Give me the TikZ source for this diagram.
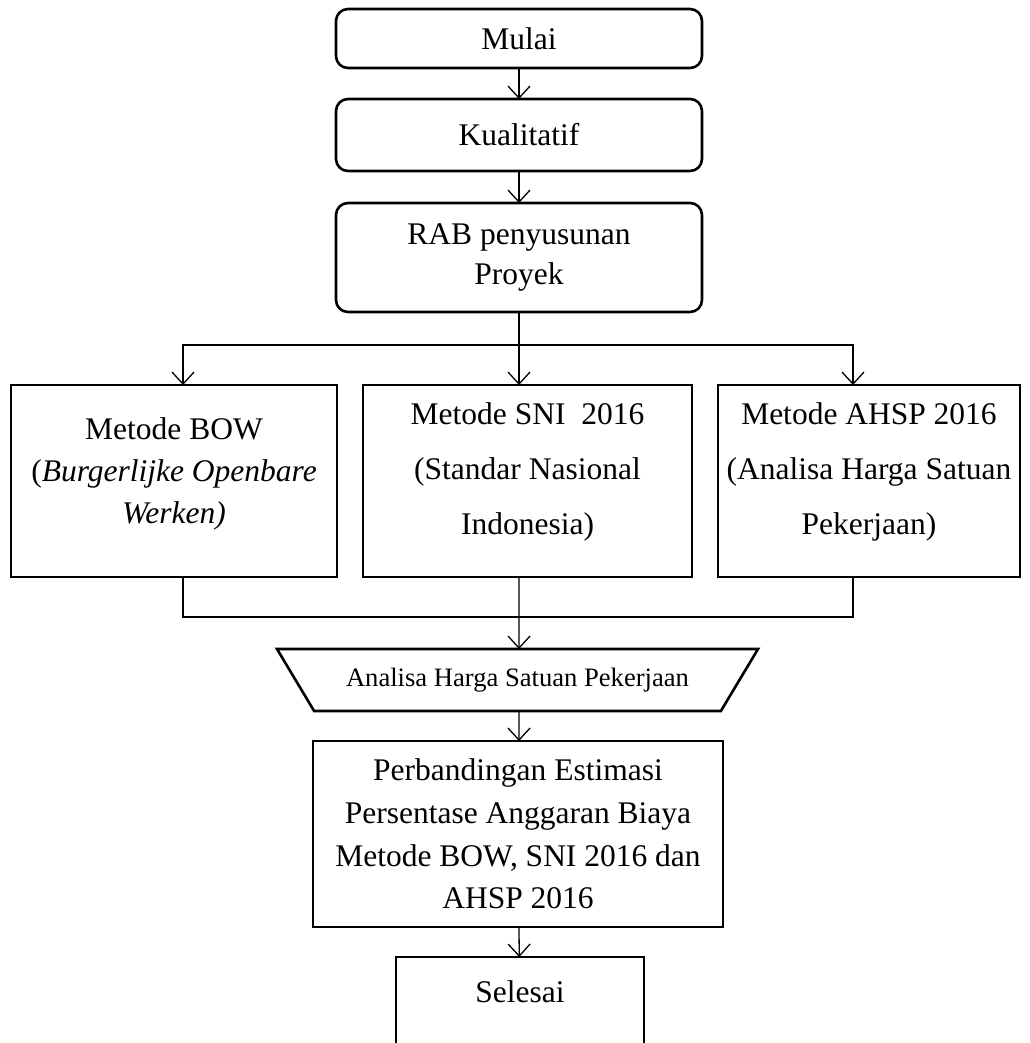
\documentclass[tikz,border=0pt]{standalone}
\usepackage{fontspec}
\setmainfont{Liberation Serif}
\usetikzlibrary{arrows.meta,shapes.geometric,calc}
\begin{document}
\begin{tikzpicture}[x=1pt,y=-1pt,
  box/.style={draw, line width=2.6pt, align=center, inner sep=0pt, outer sep=0pt,
    font=\fontsize{31.5}{42}\selectfont},
  rbox/.style={box, rounded corners=12pt},
  conn/.style={line width=1.3pt},
  arr/.style={conn, -{Straight Barb[length=12pt,width=22pt,line width=1.3pt]}}]
\clip (0,0) rectangle (1029,1043);
\fill[white] (0,0) rectangle (1029,1043);

\node[rbox, minimum width=366pt, minimum height=59pt] (mulai) at (519,38.5) {Mulai};
\node[rbox, minimum width=366pt, minimum height=72pt] (kual) at (519,135) {Kualitatif};
\node[rbox, minimum width=366pt, minimum height=109pt, font=\fontsize{31.5}{40}\selectfont] (rab) at (519,257.5) {RAB penyusunan\\Proyek};

\node[box, minimum width=326pt, minimum height=192pt] (bow) at (174,481)
  {Metode BOW\\(\textit{Burgerlijke Openbare}\\\textit{Werken)}\\[-22pt]\mbox{}};
\node[box, minimum width=329pt, minimum height=192pt, font=\fontsize{31.5}{55}\selectfont] (sni) at (527.5,481)
  {Metode SNI\ \ 2016\\(Standar Nasional\\Indonesia)\\[-31pt]\mbox{}};
\node[box, minimum width=302pt, minimum height=192pt, font=\fontsize{31.5}{55}\selectfont] (ahsp) at (869,481)
  {Metode AHSP 2016\\(Analisa Harga Satuan\\Pekerjaan)\\[-31pt]\mbox{}};

\node[draw, line width=2.6pt, trapezium, shape border rotate=180, trapezium angle=33.1,
  trapezium stretches body=true, minimum width=481pt, minimum height=62pt,
  inner sep=0pt, outer sep=0pt, font=\fontsize{26.6}{30}\selectfont] (ahs) at (517.5,680)
  {Analisa Harga Satuan Pekerjaan};

\node[box, minimum width=410pt, minimum height=186pt, font=\fontsize{31.5}{42.7}\selectfont] (band) at (518,834)
  {Perbandingan Estimasi\\Persentase Anggaran Biaya\\Metode BOW, SNI 2016 dan\\AHSP 2016};

\node[box, anchor=north, minimum width=248pt, text height=45pt, text depth=95pt] (selesai) at (520,957) {Selesai};

\coordinate (split) at (519,345);
\coordinate (merge) at (519,617);

\draw[arr] (mulai) -- (kual);
\draw[arr] (kual) -- (rab);
\draw[conn] (rab.south) -- (split);
\draw[arr] (split) -| ([xshift=9pt]bow.north);
\draw[arr] (split) -- ([xshift=-8.5pt]sni.north);
\draw[arr] (split) -| ([xshift=-16pt]ahsp.north);

\draw[conn] ([xshift=9pt]bow.south) |- (merge);
\draw[conn] ([xshift=-16pt]ahsp.south) |- (merge);
\draw[arr] ([xshift=-8.5pt]sni.south) -- ([xshift=1.5pt]ahs.north);
\draw[arr] ([xshift=1.5pt]ahs.south) -- ([xshift=1pt]band.north);
\draw[arr] (band) -- (selesai);
\end{tikzpicture}
\end{document}
